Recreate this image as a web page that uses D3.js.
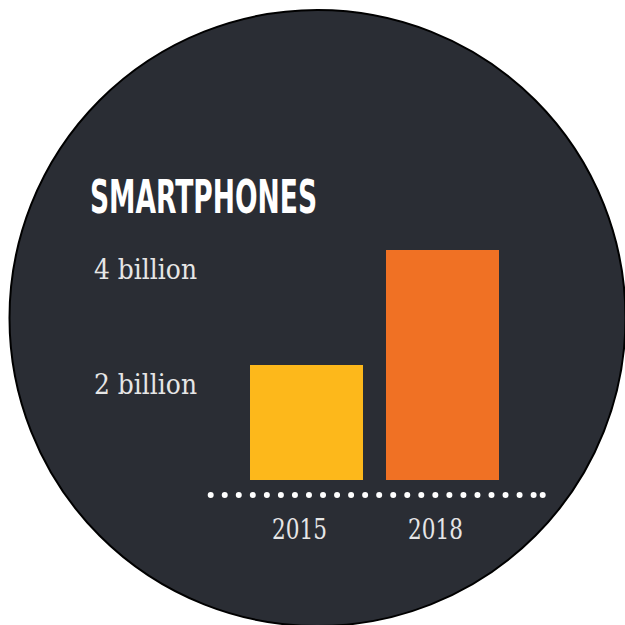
<!DOCTYPE html>
<html>
<head>
<meta charset="utf-8">
<script src="https://cdn.jsdelivr.net/npm/d3@7"></script>
<style>
  html, body { margin: 0; padding: 0; background: #ffffff; }
  svg { display: block; }
</style>
</head>
<body>
<div id="chart"></div>
<script>
// chart data
var years = ["2015", "2018"];
var phones = [2, 4];           // billions
var tickValues = [4, 2];
var tickLabels = ["4 billion", "2 billion"];
var barColors = ["#fdb81b", "#f07124"];
var title = "SMARTPHONES";

var width = 625, height = 625;

var svg = d3.select("#chart")
    .append("svg")
    .attr("width", width)
    .attr("height", height);

// big dark disc behind everything
svg.append("circle")
    .attr("cx", 317.5)
    .attr("cy", 318)
    .attr("r", 308)
    .attr("fill", "#2a2d34")
    .attr("stroke", "#000")
    .attr("stroke-width", 2);

svg.append("text")
    .attr("x", 90)
    .attr("y", 213)
    .attr("font-family", "DejaVu Sans")
    .attr("font-weight", "bold")
    .attr("font-stretch", "condensed")
    .attr("font-size", 46)
    .attr("textLength", 227)
    .attr("lengthAdjust", "spacingAndGlyphs")
    .attr("fill", "#ffffff")
    .text(title);

// scales
var xScale = d3.scaleBand()
    .domain(years)
    .range([250, 499])
    .paddingInner(0.169);

var yScale = d3.scaleLinear()
    .domain([0, 4])
    .range([480, 250]);

// y labels sit a bit below their value, no axis line
svg.selectAll("text.ylab")
    .data(tickValues)
    .enter()
    .append("text")
    .attr("class", "ylab")
    .attr("x", 94)
    .attr("y", (d) => yScale(d) + 29)
    .attr("font-family", "DejaVu Serif")
    .attr("font-size", 27)
    .attr("textLength", 103)
    .attr("lengthAdjust", "spacingAndGlyphs")
    .attr("fill", "#e6e6e6")
    .text((d, i) => tickLabels[i]);

svg.selectAll("rect.bar")
    .data(phones)
    .enter()
    .append("rect")
    .attr("class", "bar")
    .attr("x", (d, i) => xScale(years[i]))
    .attr("y", (d) => yScale(d))
    .attr("width", xScale.bandwidth())
    .attr("height", (d) => yScale(0) - yScale(d))
    .attr("fill", (d, i) => barColors[i]);

// dotted baseline
svg.append("line")
    .attr("x1", 210.7)
    .attr("x2", 536)
    .attr("y1", 495)
    .attr("y2", 495)
    .attr("stroke", "#ffffff")
    .attr("stroke-width", 6)
    .attr("stroke-linecap", "round")
    .attr("stroke-dasharray", "0 14.04");

svg.append("circle")
    .attr("cx", 542.7)
    .attr("cy", 495)
    .attr("r", 3)
    .attr("fill", "#ffffff");

// year labels
svg.selectAll("text.xlab")
    .data(years)
    .enter()
    .append("text")
    .attr("class", "xlab")
    .attr("x", (d) => xScale(d) + xScale.bandwidth() / 2 - 7)
    .attr("y", 539)
    .attr("text-anchor", "middle")
    .attr("font-family", "DejaVu Serif")
    .attr("font-size", 28)
    .attr("textLength", 55)
    .attr("lengthAdjust", "spacingAndGlyphs")
    .attr("fill", "#e6e6e6")
    .text((d) => d);
</script>
</body>
</html>
